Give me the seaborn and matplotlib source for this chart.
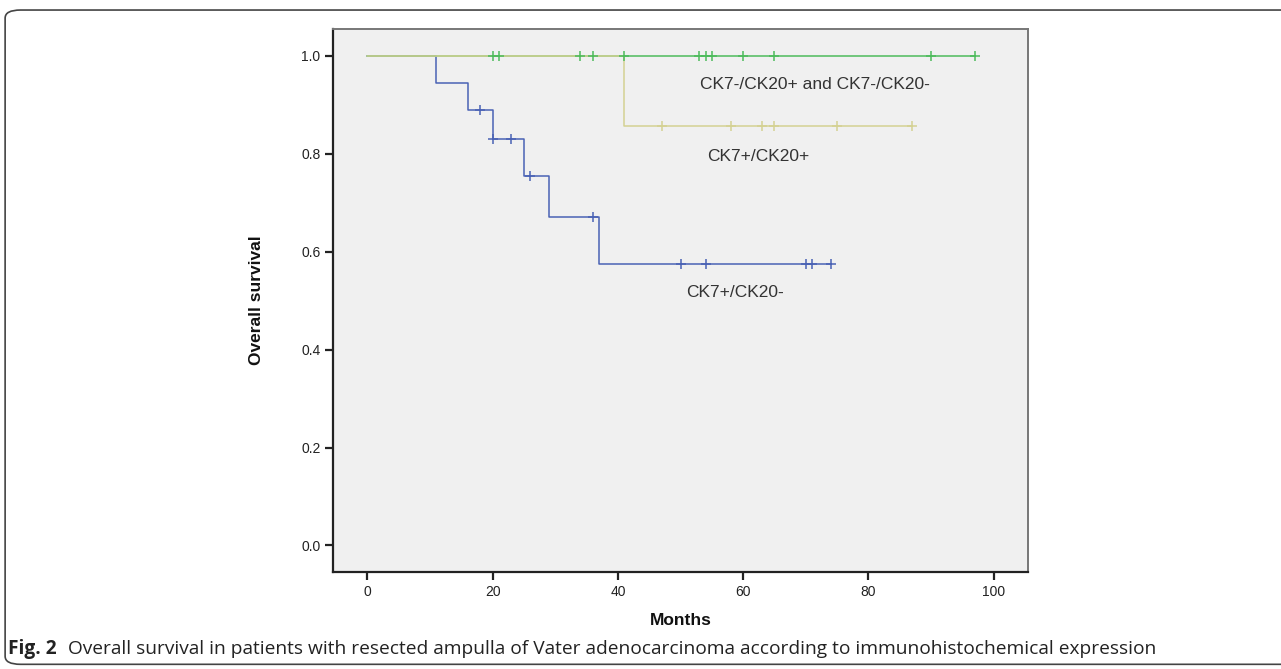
import pandas as pd
import numpy as np
import matplotlib.pyplot as plt
import seaborn as sns
from matplotlib.patches import FancyBboxPatch

# Step curves (month, survival)
blue_t = [0, 11, 16, 20, 25, 29, 37, 74]
blue_s = [1.0, 0.944, 0.889, 0.830, 0.755, 0.671, 0.575, 0.575]
green_t = [0, 97]
green_s = [1.0, 1.0]
khaki_t = [0, 41, 87]
khaki_s = [1.0, 0.857, 0.857]

# Censored cases
blue_cens_t = [18, 20, 23, 26, 36, 50, 54, 70, 71, 74]
blue_cens_s = [0.889, 0.830, 0.830, 0.755, 0.671, 0.575, 0.575, 0.575, 0.575, 0.575]
green_cens_t = [20, 21, 34, 36, 41, 53, 54, 55, 60, 65, 90, 97]
green_cens_s = [1.0] * 12
khaki_cens_t = [47, 58, 63, 65, 75, 87]
khaki_cens_s = [0.857] * 6

groups = ["CK7+/CK20-", "CK7-/CK20+ and CK7-/CK20-", "CK7+/CK20+"]
colors = {"CK7+/CK20-": "#4a62b4",
          "CK7-/CK20+ and CK7-/CK20-": "#4dbb5c",
          "CK7+/CK20+": "#d4d193"}

curves = pd.concat([
    pd.DataFrame({"group": groups[0], "t": blue_t, "s": blue_s}),
    pd.DataFrame({"group": groups[1], "t": green_t, "s": green_s}),
    pd.DataFrame({"group": groups[2], "t": khaki_t, "s": khaki_s}),
])
cens = pd.concat([
    pd.DataFrame({"group": groups[0], "t": blue_cens_t, "s": blue_cens_s}),
    pd.DataFrame({"group": groups[1], "t": green_cens_t, "s": green_cens_s}),
    pd.DataFrame({"group": groups[2], "t": khaki_cens_t, "s": khaki_cens_s}),
])

sns.set_style("white")
plt.rcParams['font.family'] = ['Liberation Sans', 'DejaVu Sans']

fig = plt.figure(figsize=(12.81, 6.69), dpi=100)
ax = fig.add_axes([0.26, 0.1445, 0.5425, 0.8122])
ax.set_facecolor("#f0f0f0")

for g in groups:
    sns.lineplot(data=curves[curves["group"] == g], x="t", y="s", color=colors[g],
                 drawstyle="steps-post", estimator=None, sort=False, linewidth=1.1, ax=ax)
for g in groups:
    sns.scatterplot(data=cens[cens["group"] == g], x="t", y="s", color=colors[g],
                    marker="+", s=55, linewidth=1.1, ax=ax, zorder=3)

ax.set_xlim(-5.5, 105.5)
ax.set_ylim(-0.055, 1.055)
ax.set_xticks([0, 20, 40, 60, 80, 100])
ax.set_yticks([0.0, 0.2, 0.4, 0.6, 0.8, 1.0])
ax.set_yticklabels([f"{v:.1f}" for v in [0.0, 0.2, 0.4, 0.6, 0.8, 1.0]])
ax.tick_params(axis="both", direction="out", length=6, width=1.6, labelsize=10,
               colors="#222222", left=True, bottom=True, pad=3)

for side in ["left", "bottom"]:
    ax.spines[side].set_color("#222222")
    ax.spines[side].set_linewidth(1.6)
for side in ["top", "right"]:
    ax.spines[side].set_color("#777777")
    ax.spines[side].set_linewidth(1.4)

ax.set_xlabel("Months", fontsize=12.5, weight="bold", color="#111111")
ax.set_ylabel("Overall survival", fontsize=12.5, weight="bold", color="#111111")
ax.xaxis.set_label_coords(0.5, -0.075)
ax.yaxis.set_label_coords(-0.1, 0.5)

# curve labels
ax.text(53.1, 0.941, "CK7-/CK20+ and CK7-/CK20-", fontsize=12.5, color="#333333", va="center")
ax.text(54.2, 0.794, "CK7+/CK20+", fontsize=12.5, color="#333333", va="center")
ax.text(50.9, 0.516, "CK7+/CK20-", fontsize=12.5, color="#333333", va="center")

# caption
t1 = fig.text(0.006, 0.022, "Fig. 2", fontsize=13.8, weight="bold", family="Open Sans",
              color="#222222", va="baseline")
fig.text(0.053, 0.022, "Overall survival in patients with resected ampulla of Vater adenocarcinoma according to immunohistochemical expression",
         fontsize=13.8, family="Open Sans", color="#222222", va="baseline")

# frame around the figure
frame = FancyBboxPatch((0.004, 0.007), 1.1, 0.978, boxstyle="round,pad=0,rounding_size=0.012",
                       transform=fig.transFigure, facecolor="none", edgecolor="#444444", linewidth=1.2)
fig.patches.append(frame)

fig.savefig("out.png", dpi=100, facecolor="white")
